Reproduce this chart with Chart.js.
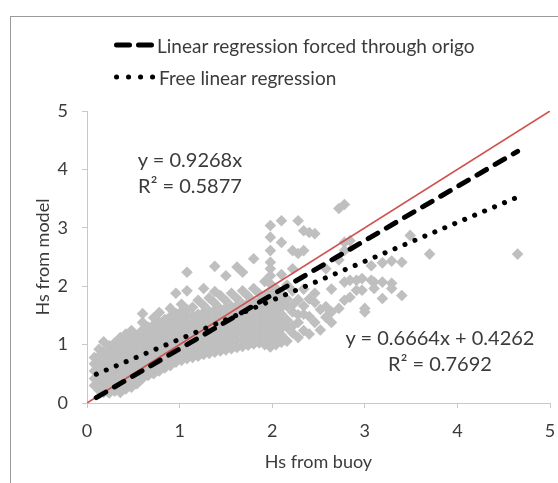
<!DOCTYPE html>
<html>
<head>
<meta charset="utf-8">
<script src="https://cdn.jsdelivr.net/npm/chart.js@4.4.1/dist/chart.umd.min.js"></script>
<style>
  html, body { margin: 0; padding: 0; background: #fff; }
  #wrap { position: relative; width: 558px; height: 483px; overflow: hidden; font-family: Lato, "Open Sans", sans-serif; color: #3b3b3b; }
  #frame { position: absolute; left: 10px; top: 16px; width: 700px; height: 600px; border-left: 1px solid #9a9a9a; border-top: 1px solid #9a9a9a; }
  #plot { position: absolute; left: 0; top: 0; }
  .key { position: absolute; left: 114px; height: 20px; display: flex; align-items: center; font-size: 19px; white-space: nowrap; }
  .key svg { margin-right: 3px; }
  .eq { position: absolute; font-size: 20px; line-height: 26px; text-align: center; white-space: nowrap; transform: translateX(-50%); }
</style>
</head>
<body>
<div id="wrap">
  <div id="frame"></div>
  <canvas id="plot" width="558" height="483"></canvas>
  <div class="key" style="top:35px">
    <svg width="40" height="10"><line x1="2.5" y1="5" x2="37.5" y2="5" stroke="#000" stroke-width="5" stroke-linecap="round" stroke-dasharray="13 9"/></svg>
    <span id="key-origo"></span>
  </div>
  <div class="key" style="top:67px">
    <svg width="42" height="10"><line x1="2.5" y1="5" x2="39" y2="5" stroke="#000" stroke-width="5" stroke-linecap="round" stroke-dasharray="0.1 11.9"/></svg>
    <span id="key-free"></span>
  </div>
  <div class="eq" id="eq-origo" style="left:190px; top:146px"></div>
  <div class="eq" id="eq-free" style="left:440px; top:324px"></div>
</div>
<script>
// buoy Hs (x) columns and the model Hs (y) values read at each of them
const buoyCols = [
  0.08, 0.13, 0.18, 0.24, 0.30, 0.36, 0.42, 0.48, 0.54, 0.60,
  0.66, 0.72, 0.78, 0.84, 0.90, 0.96, 1.02, 1.08, 1.14, 1.20,
  1.26, 1.32, 1.38, 1.44, 1.50, 1.56, 1.62, 1.68, 1.74, 1.80,
  1.86, 1.92, 1.98, 2.04, 2.10, 2.16, 2.22, 2.28, 2.34, 2.40,
  2.46, 2.52, 2.58, 2.64, 2.72, 2.78, 2.84, 2.91, 2.97, 3.00,
  3.07, 3.10, 3.19, 3.29, 3.40, 3.49, 3.70, 4.65
];
const modelCols = [
  [0.30, 0.42, 0.55, 0.67, 0.78],
  [0.22, 0.33, 0.45, 0.57, 0.69, 0.80, 0.92],
  [0.18, 0.29, 0.40, 0.52, 0.64, 0.76, 0.88, 1.05],
  [0.17, 0.28, 0.39, 0.50, 0.62, 0.74, 0.86, 0.98],
  [0.20, 0.31, 0.43, 0.55, 0.67, 0.79, 0.91, 1.03],
  [0.18, 0.29, 0.41, 0.53, 0.65, 0.77, 0.89, 1.01, 1.12],
  [0.24, 0.35, 0.47, 0.59, 0.71, 0.83, 0.95, 1.07, 1.18],
  [0.27, 0.38, 0.50, 0.62, 0.74, 0.86, 0.98, 1.10, 1.24],
  [0.33, 0.44, 0.56, 0.68, 0.80, 0.92, 1.04, 1.16],
  [0.42, 0.53, 0.65, 0.77, 0.89, 1.01, 1.13, 1.25, 1.38, 1.53],
  [0.47, 0.58, 0.70, 0.82, 0.94, 1.06, 1.18, 1.30],
  [0.50, 0.62, 0.74, 0.86, 0.98, 1.10, 1.22, 1.34, 1.46],
  [0.55, 0.66, 0.78, 0.90, 1.02, 1.14, 1.26, 1.38, 1.55],
  [0.60, 0.71, 0.83, 0.95, 1.07, 1.19, 1.31, 1.43],
  [0.64, 0.76, 0.88, 1.00, 1.12, 1.24, 1.36, 1.48, 1.62],
  [0.70, 0.81, 0.93, 1.05, 1.17, 1.29, 1.41, 1.53, 1.88],
  [0.73, 0.85, 0.97, 1.09, 1.21, 1.33, 1.45, 1.57, 1.69],
  [0.76, 0.88, 1.00, 1.12, 1.24, 1.36, 1.48, 1.60, 1.92, 2.24],
  [0.78, 0.90, 1.02, 1.14, 1.26, 1.38, 1.50, 1.64],
  [0.80, 0.92, 1.04, 1.16, 1.28, 1.40, 1.52, 1.76],
  [0.83, 0.95, 1.07, 1.19, 1.31, 1.43, 1.55, 1.67, 1.96],
  [0.85, 0.97, 1.09, 1.21, 1.33, 1.45, 1.57, 1.80],
  [0.87, 0.99, 1.11, 1.23, 1.35, 1.47, 1.59, 1.71, 1.91, 2.34],
  [0.89, 1.01, 1.13, 1.25, 1.37, 1.49, 1.61, 1.84],
  [0.91, 1.03, 1.15, 1.27, 1.39, 1.51, 1.63, 1.75, 2.18],
  [0.93, 1.05, 1.17, 1.29, 1.41, 1.53, 1.65, 1.88],
  [0.95, 1.07, 1.19, 1.31, 1.43, 1.55, 1.67, 1.79, 2.33],
  [0.97, 1.09, 1.21, 1.33, 1.45, 1.57, 1.69, 1.92, 2.24],
  [0.99, 1.11, 1.23, 1.35, 1.47, 1.59, 1.71, 1.83],
  [1.01, 1.13, 1.25, 1.37, 1.49, 1.61, 1.73, 1.96, 2.47],
  [1.03, 1.15, 1.27, 1.39, 1.51, 1.63, 1.75, 1.87],
  [1.00, 1.12, 1.24, 1.36, 1.48, 1.60, 1.72, 1.84, 2.08],
  [0.96, 1.08, 1.20, 1.32, 1.44, 1.56, 1.68, 1.80, 1.92, 2.04, 2.18, 2.30, 2.41, 2.61, 2.84, 3.04],
  [1.00, 1.12, 1.24, 1.36, 1.48, 1.60, 1.72, 1.84, 1.96],
  [1.04, 1.16, 1.28, 1.40, 1.52, 1.64, 1.76, 1.88, 2.20, 2.75, 3.12],
  [1.06, 1.30, 1.42, 1.66, 1.78, 2.02],
  [1.20, 1.32, 1.56, 1.68, 1.92, 2.30, 2.61],
  [1.12, 1.38, 1.51, 1.77, 2.56, 3.12],
  [1.24, 1.52, 1.66, 1.95, 2.61, 2.95],
  [1.18, 1.48, 1.78, 2.92],
  [1.38, 1.72, 1.88, 2.90],
  [1.25, 1.60],
  [1.47, 1.65, 2.30],
  [1.38, 1.56, 1.95],
  [1.62, 2.45, 3.33],
  [1.76, 2.07, 2.61, 2.75, 3.40],
  [1.81, 2.10, 2.78],
  [1.93, 2.10],
  [1.93, 2.13],
  [1.56, 1.62],
  [2.10, 2.35],
  [1.96, 2.07],
  [1.79, 2.07, 2.40],
  [1.96, 2.05, 2.43],
  [1.84, 2.41],
  [2.87],
  [2.55],
  [2.55]
];

// trendlines as printed on the chart
const originSlope = 0.9268, originR2 = 0.5877;
const freeSlope = 0.6664, freeIntercept = 0.4262, freeR2 = 0.7692;
const trendFrom = 0.1, trendTo = 4.65;
const axisTicks = [0, 1, 2, 3, 4, 5];

const originLabel = 'Linear regression forced through origo';
const freeLabel = 'Free linear regression';

const fmt = v => v.toFixed(4);
document.getElementById('key-origo').textContent = originLabel;
document.getElementById('key-free').textContent = freeLabel;
document.getElementById('eq-origo').innerHTML = 'y = ' + fmt(originSlope) + 'x<br>R² = ' + fmt(originR2);
document.getElementById('eq-free').innerHTML = 'y = ' + fmt(freeSlope) + 'x + ' + fmt(freeIntercept) + '<br>R² = ' + fmt(freeR2);

const obs = [];
buoyCols.forEach((x, i) => modelCols[i].forEach(y => obs.push({ x: x, y: y })));

const tickFont = { family: 'Lato', size: 18 };
const axisGrey = '#c8c8c8';

new Chart(document.getElementById('plot'), {
  type: 'scatter',
  data: {
    datasets: [
      {
        label: originLabel, type: 'line', order: 0,
        data: [trendFrom, trendTo].map(x => ({ x: x, y: originSlope * x })),
        borderColor: '#000', borderWidth: 5, borderDash: [11, 10], borderCapStyle: 'round',
        pointRadius: 0, fill: false
      },
      {
        label: freeLabel, type: 'line', order: 1,
        data: [trendFrom, trendTo].map(x => ({ x: x, y: freeSlope * x + freeIntercept })),
        borderColor: '#000', borderWidth: 5, borderDash: [0.1, 10.7], borderCapStyle: 'round',
        pointRadius: 0, fill: false
      },
      {
        label: '1:1', type: 'line', order: 2,
        data: [{ x: 0, y: 0 }, { x: 5, y: 5 }],
        borderColor: '#d0504c', borderWidth: 1.6, pointRadius: 0, fill: false
      },
      {
        label: 'Hs', order: 3,
        data: obs,
        pointStyle: 'rectRot', pointRadius: 5.8, pointBorderWidth: 0,
        backgroundColor: '#bfbfbf', borderColor: '#bfbfbf'
      }
    ]
  },
  options: {
    responsive: false,
    animation: false,
    events: [],
    layout: { padding: { top: 111, right: 8, left: 0, bottom: 0 } },
    plugins: { legend: { display: false }, tooltip: { enabled: false } },
    scales: {
      x: {
        type: 'linear', min: 0, max: 5,
        afterBuildTicks: s => { s.ticks = axisTicks.map(v => ({ value: v })); },
        afterFit: s => { s.height = 80; s.paddingLeft = 0; s.paddingRight = 0; },
        ticks: { color: '#3b3b3b', font: tickFont, padding: 12, maxRotation: 0 },
        grid: { drawOnChartArea: false, drawTicks: true, tickLength: 5, color: axisGrey },
        border: { color: axisGrey, width: 1 },
        title: { display: true, text: 'Hs from buoy', color: '#3b3b3b', font: tickFont, padding: { top: 0, bottom: 10 } }
      },
      y: {
        type: 'linear', min: 0, max: 5,
        afterBuildTicks: s => { s.ticks = axisTicks.map(v => ({ value: v })); },
        afterFit: s => { s.width = 87; s.paddingTop = 0; s.paddingBottom = 0; },
        ticks: { color: '#3b3b3b', font: tickFont, padding: 14 },
        grid: { drawOnChartArea: false, drawTicks: true, tickLength: 5, color: axisGrey },
        border: { color: axisGrey, width: 1 },
        title: { display: true, text: 'Hs from model', color: '#3b3b3b', font: tickFont, padding: { top: 32, bottom: 0 } }
      }
    }
  }
});
</script>
</body>
</html>
